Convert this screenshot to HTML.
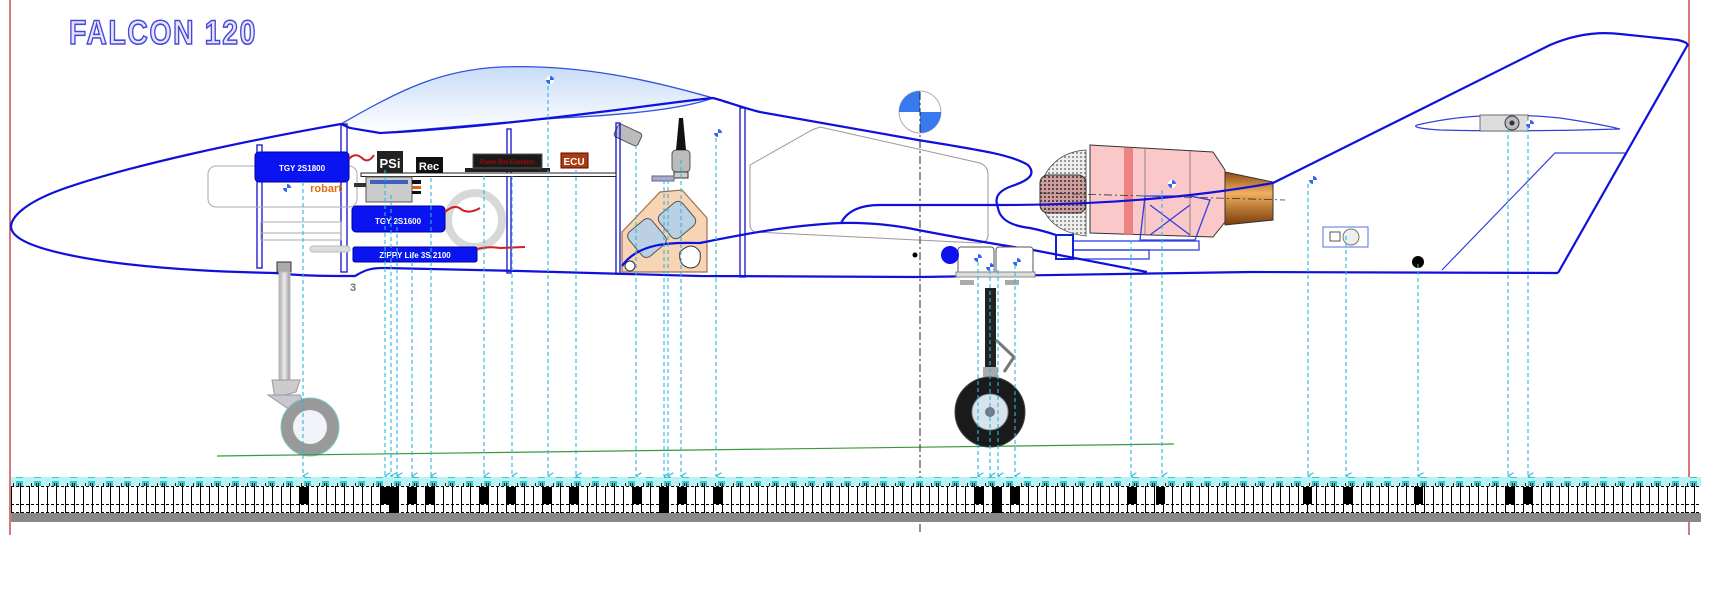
<!DOCTYPE html>
<html><head><meta charset="utf-8"><style>
html,body{margin:0;padding:0;background:#fff;}
svg{display:block;}
</style></head><body>
<svg width="1716" height="609" viewBox="0 0 1716 609" xmlns="http://www.w3.org/2000/svg" font-family="Liberation Sans, sans-serif">
<defs>
<linearGradient id="can" x1="0" y1="0" x2="0" y2="1"><stop offset="0" stop-color="#c8dcf8"/><stop offset="1" stop-color="#ffffff"/></linearGradient>
<linearGradient id="noz" x1="0" y1="0" x2="0" y2="1"><stop offset="0" stop-color="#8a4a10"/><stop offset="0.4" stop-color="#f0b060"/><stop offset="1" stop-color="#7a3c08"/></linearGradient>
<linearGradient id="strut" x1="0" y1="0" x2="1" y2="0"><stop offset="0" stop-color="#aaa"/><stop offset="0.5" stop-color="#eee"/><stop offset="1" stop-color="#999"/></linearGradient>
<pattern id="dots" width="4" height="4" patternUnits="userSpaceOnUse"><rect width="4" height="4" fill="#eee"/><rect width="2" height="2" fill="#999"/></pattern>
<pattern id="dots2" width="4" height="4" patternUnits="userSpaceOnUse"><rect width="4" height="4" fill="#c8a0a0"/><rect width="2" height="2" fill="#6a4040"/></pattern>
<pattern id="cells" x="11" y="0" width="9" height="40" patternUnits="userSpaceOnUse"><line x1="0.5" y1="0" x2="0.5" y2="40" stroke="#000" stroke-width="1"/></pattern>
<pattern id="cy" x="11" y="0" width="18" height="10" patternUnits="userSpaceOnUse"><rect x="5" y="1" width="7" height="7" fill="#3cc8c8"/><rect x="2" y="3" width="1" height="3" fill="#222"/><rect x="7" y="3" width="1" height="3" fill="#222"/><rect x="9" y="3" width="1" height="3" fill="#222"/></pattern>
<marker id="ar" markerWidth="6" markerHeight="6" refX="3" refY="5" orient="auto"><path d="M0,0 L3,5 L6,0" fill="none" stroke="#2cb8e0" stroke-width="1"/></marker>
<g id="cg"><circle r="4" fill="#fff"/><path d="M0,-4 A4,4 0 0 1 4,0 L0,0Z M0,4 A4,4 0 0 1 -4,0 L0,0Z" fill="#3366ee"/></g>
</defs>

<!-- red borders -->
<line x1="10" y1="0" x2="10" y2="535" stroke="#c02020" stroke-width="1.2"/>
<line x1="1689" y1="0" x2="1689" y2="535" stroke="#c02020" stroke-width="1.2"/>

<!-- title -->
<text x="69" y="44" font-size="34" font-weight="bold" fill="#e4e4ff" stroke="#4848d8" stroke-width="1.6" textLength="188" lengthAdjust="spacingAndGlyphs" letter-spacing="2">FALCON 120</text>

<!-- canopy -->
<path d="M341,124 C400,90 440,70 500,67 C580,64 650,80 713,98 C680,110 620,115 560,118 C480,124 420,130 380,133 L350,128 Z" fill="url(#can)" stroke="#3050e0" stroke-width="1.3"/>

<!-- hatch outline -->
<path d="M750,165 L812,130 L820,127 L980,163 Q988,166 988,175 L988,236 Q987,243 979,243 L755,232 Q750,230 750,225 Z" fill="none" stroke="#999" stroke-width="1"/>

<!-- fuel tank -->
<polygon points="622,272 622,232 660,192 682,190 707,218 707,272" fill="#f6d4b4" stroke="#a07050" stroke-width="1.2"/>
<rect x="632" y="222" width="30" height="32" rx="6" fill="#bcd0e4" stroke="#555" transform="rotate(-40 647 238)"/>
<rect x="662" y="205" width="30" height="30" rx="6" fill="#bcd0e4" stroke="#555" transform="rotate(-40 677 220)"/>
<path d="M680,252 Q692,240 700,252 Q702,268 690,268 Q678,266 680,252Z" fill="#fff" stroke="#333"/>
<circle cx="630" cy="266" r="5" fill="#fff" stroke="#333"/>
<!-- fuel pump / valves -->
<rect x="672" y="150" width="18" height="22" rx="4" fill="#bbb" stroke="#555"/>
<path d="M679,118 L683,118 L686,150 L676,150Z" fill="#111"/>
<rect x="674" y="172" width="14" height="6" fill="#ccc" stroke="#333"/>
<rect x="652" y="176" width="22" height="5" fill="#aac" stroke="#668"/>
<rect x="615" y="128" width="26" height="14" rx="3" fill="#bbb" stroke="#555" transform="rotate(25 628 135)"/>

<!-- engine -->
<path d="M1086,150 C1055,152 1040,175 1040,195 C1042,220 1060,233 1086,236Z" fill="url(#dots)" stroke="#444" stroke-width="0.8"/>
<rect x="1040" y="175" width="46" height="38" rx="8" fill="url(#dots2)" stroke="#333"/>
<path d="M1090,145 L1213,152 L1225,170 L1225,222 L1213,237 L1090,233Z" fill="#fac8c8" stroke="#333" stroke-width="1"/>
<rect x="1124" y="148" width="9" height="87" fill="#e87070" opacity="0.8"/>
<line x1="1145" y1="148" x2="1145" y2="234" stroke="#555" stroke-width="0.6"/>
<line x1="1190" y1="150" x2="1190" y2="235" stroke="#555" stroke-width="0.6"/>
<path d="M1225,172 L1273,182 L1273,220 L1225,225Z" fill="url(#noz)" stroke="#333"/>
<line x1="1040" y1="193" x2="1285" y2="200" stroke="#333" stroke-width="0.8" stroke-dasharray="8,3,2,3"/>
<!-- engine mount -->
<path d="M1145,196 L1190,196 L1210,200 L1195,240 L1140,240 Z M1150,205 L1190,235 M1190,205 L1150,235" fill="none" stroke="#3040e0" stroke-width="1.3"/>
<rect x="1073" y="241" width="126" height="9" fill="none" stroke="#3040e0" stroke-width="1.3"/>
<rect x="1073" y="250" width="76" height="9" fill="none" stroke="#3040e0" stroke-width="1.3"/>
<rect x="1056" y="235" width="17" height="24" fill="none" stroke="#1020e0" stroke-width="2"/>

<!-- fuselage outline -->
<g fill="none" stroke="#1010dd" stroke-width="2.2">
<path d="M341,124 C250,140 130,165 60,190 C25,203 11,217 11,227 C12,240 40,252 110,262 C170,270 230,272 275,273 C300,276 330,276 355,276 C365,270 370,268 385,268 L520,271 L700,276 L920,277 L1250,272 L1558,273"/>
<path d="M341,124 L350,128 L380,133 C440,130 520,122 600,112 C650,106 690,100 713,98 C725,101 740,107 760,112 L918,140 C980,150 1012,155 1028,165 C1036,174 1030,180 1012,186 C995,192 995,200 998,208 C1000,220 1012,226 1030,228 C1040,230 1050,233 1056,235"/>
<path d="M1273,183 L1550,45 Q1585,30 1620,34 L1678,40 Q1690,43 1687,46 L1558,273"/>
<path d="M622,266 C640,240 680,243 700,243 C740,235 790,225 841,223 C870,222 900,226 918,230 C960,238 1000,245 1033,250 L1147,272"/>
<path d="M841,223 Q850,205 880,205 L1000,205 Q1150,205 1273,183"/>
</g>
<path d="M1442,270 L1555,153 L1625,153" fill="none" stroke="#3040e0" stroke-width="1.2"/>
<path d="M1417,125 Q1480,110 1560,118 Q1600,124 1620,129 Q1520,132 1440,130 Q1410,128 1417,125Z" fill="none" stroke="#3040e0" stroke-width="1.2"/>
<rect x="1480" y="115" width="48" height="16" fill="#ddd" stroke="#555" stroke-width="0.8"/>
<circle cx="1512" cy="123" r="7" fill="#bbb" stroke="#333"/><circle cx="1512" cy="123" r="2.5" fill="#234"/>
<rect x="1323" y="227" width="45" height="20" fill="#fff" stroke="#5070e0"/>
<circle cx="1351" cy="237" r="8" fill="#eee" stroke="#777"/><rect x="1330" y="232" width="10" height="9" fill="#fff" stroke="#555"/>
<circle cx="1418" cy="262" r="6" fill="#000"/>

<!-- bulkheads -->
<g fill="none" stroke="#1010cc" stroke-width="1.3">
<rect x="257" y="145" width="5" height="123"/>
<rect x="341" y="124" width="6" height="148"/>
<rect x="507" y="129" width="4" height="144"/>
<rect x="616" y="123" width="4" height="151"/>
<rect x="740" y="108" width="5" height="169"/>
</g>
<rect x="361" y="173" width="255" height="3.5" fill="#fff" stroke="#222" stroke-width="1"/>

<!-- nose area items -->
<rect x="208" y="166" width="149" height="41" rx="8" fill="none" stroke="#aaa" stroke-width="1"/>
<rect x="261" y="222" width="80" height="18" fill="none" stroke="#aaa"/>
<line x1="261" y1="233" x2="341" y2="233" stroke="#aaa"/>
<rect x="310" y="246" width="40" height="6" rx="3" fill="#ddd" stroke="#bbb"/>
<rect x="277" y="262" width="14" height="10" fill="#aaa" stroke="#333"/>

<!-- components -->
<rect x="255" y="152" width="94" height="30" rx="4" fill="#0a14f0" stroke="#0000a0"/>
<text x="302" y="171" font-size="8" font-weight="bold" fill="#fff" text-anchor="middle">TGY 2S1800</text>
<text x="326" y="192" font-size="11" font-weight="bold" fill="#e07010" text-anchor="middle">robart</text>
<path d="M349,159 Q355,152 362,158 Q368,164 374,155" fill="none" stroke="#d02020" stroke-width="2"/>
<rect x="377" y="151" width="26" height="22" fill="#222"/>
<text x="390" y="168" font-size="13" font-weight="bold" fill="#fff" text-anchor="middle">PSi</text>
<rect x="416" y="157" width="27" height="16" fill="#111"/>
<text x="429" y="170" font-size="11" font-weight="bold" fill="#fff" text-anchor="middle">Rec</text>
<rect x="465" y="168" width="85" height="4" fill="#222"/>
<rect x="473" y="154" width="69" height="14" fill="#1a1a1a" stroke="#555"/>
<text x="507" y="164" font-size="6" fill="#d00" text-anchor="middle">Power Box Evolution</text>
<rect x="561" y="153" width="27" height="15" fill="#a83e10" stroke="#600"/>
<text x="574" y="165" font-size="10" font-weight="bold" fill="#fff" text-anchor="middle">ECU</text>
<rect x="366" y="177" width="46" height="25" fill="#ccc" stroke="#555"/>
<rect x="370" y="180" width="38" height="4" fill="#4060c0"/>
<rect x="354" y="183" width="12" height="4" fill="#333"/><rect x="412" y="180" width="9" height="4" fill="#111"/><rect x="412" y="186" width="9" height="3" fill="#e06010"/><rect x="412" y="191" width="9" height="3" fill="#111"/>
<circle cx="475" cy="220" r="27" fill="none" stroke="#d8d8d8" stroke-width="8"/>
<rect x="352" y="206" width="93" height="26" rx="4" fill="#0a14f0" stroke="#0000a0"/>
<text x="398" y="224" font-size="8" font-weight="bold" fill="#fff" text-anchor="middle">TGY 2S1600</text>
<path d="M445,212 Q455,203 462,210 Q470,214 480,208" fill="none" stroke="#d02020" stroke-width="2"/>
<rect x="353" y="247" width="124" height="15" rx="2" fill="#0a14f0" stroke="#0000a0"/>
<text x="415" y="258" font-size="8" font-weight="bold" fill="#fff" text-anchor="middle">ZIPPY Life 3S 2100</text>
<path d="M477,249 Q490,246 500,248 L525,247" fill="none" stroke="#d02020" stroke-width="2"/>
<text x="353" y="291" font-size="11" font-weight="bold" fill="#777" text-anchor="middle">3</text>

<!-- nose gear -->
<rect x="279" y="272" width="11" height="110" fill="url(#strut)" stroke="#bbb"/>
<path d="M272,380 L300,380 L296,392 L275,398 Z" fill="#ccc" stroke="#999"/>
<path d="M268,395 L300,395 L308,410 L290,410Z" fill="#c8c8d0" stroke="#999"/>
<circle cx="310" cy="427" r="29" fill="#999" stroke="#7cc" stroke-width="1"/>
<circle cx="310" cy="427" r="17" fill="#f0f4f8"/>
<line x1="217" y1="456" x2="1174" y2="444" stroke="#3a9a3a" stroke-width="1.2"/>

<!-- main gear -->
<rect x="958" y="247" width="36" height="27" rx="3" fill="#fff" stroke="#555"/>
<rect x="996" y="247" width="37" height="27" rx="3" fill="#fff" stroke="#555"/>
<rect x="956" y="272" width="79" height="5" fill="#ddd" stroke="#888"/>
<rect x="960" y="280" width="14" height="5" fill="#aaa"/><rect x="1005" y="280" width="14" height="5" fill="#aaa"/>
<rect x="985" y="288" width="11" height="80" fill="#222"/>
<path d="M996,340 L1014,357 L1004,372" fill="none" stroke="#777" stroke-width="3"/>
<rect x="983" y="367" width="15" height="10" fill="#aaa"/>
<circle cx="990" cy="412" r="35" fill="#1a1a1a" stroke="#444"/>
<circle cx="990" cy="412" r="18" fill="#d8e4ec" stroke="#889"/>
<circle cx="990" cy="412" r="5" fill="#778"/>
<circle cx="950" cy="255" r="9" fill="#1010ee"/>
<circle cx="915" cy="255" r="2.5" fill="#000"/>

<!-- MAC marker -->
<circle cx="920" cy="112" r="21" fill="#fff" stroke="#aab" stroke-width="1"/>
<path d="M920,91 A21,21 0 0 0 899,112 L920,112Z M920,133 A21,21 0 0 0 941,112 L920,112Z" fill="#3a78ee"/>
<line x1="920" y1="92" x2="920" y2="535" stroke="#223" stroke-width="1" stroke-dasharray="8,3,2,3"/>

<!-- small cg markers -->
<use href="#cg" x="550" y="80"/><use href="#cg" x="287" y="188"/><use href="#cg" x="718" y="133"/>
<use href="#cg" x="1313" y="180"/><use href="#cg" x="1172" y="184"/><use href="#cg" x="1530" y="124"/>
<use href="#cg" x="978" y="258"/><use href="#cg" x="990" y="267"/><use href="#cg" x="1017" y="262"/>

<!-- dashed leader lines -->
<g stroke="#2cb8e0" stroke-width="1.1" stroke-dasharray="4,3" marker-end="url(#ar)">
<line x1="303" y1="182" x2="303" y2="476"/>
<line x1="385" y1="170" x2="385" y2="476"/>
<line x1="391" y1="195" x2="391" y2="476"/>
<line x1="397" y1="220" x2="397" y2="476"/>
<line x1="412" y1="255" x2="412" y2="476"/>
<line x1="431" y1="178" x2="431" y2="476"/>
<line x1="484" y1="176" x2="484" y2="476"/>
<line x1="512" y1="176" x2="512" y2="476"/>
<line x1="548" y1="86" x2="548" y2="476"/>
<line x1="576" y1="170" x2="576" y2="476"/>
<line x1="636" y1="145" x2="636" y2="476"/>
<line x1="664" y1="180" x2="664" y2="476"/>
<line x1="668" y1="180" x2="668" y2="476"/>
<line x1="681" y1="160" x2="681" y2="476"/>
<line x1="716" y1="138" x2="716" y2="476"/>
<line x1="978" y1="262" x2="978" y2="476"/>
<line x1="990" y1="270" x2="990" y2="476"/>
<line x1="998" y1="270" x2="998" y2="476"/>
<line x1="1015" y1="265" x2="1015" y2="476"/>
<line x1="1131" y1="240" x2="1131" y2="476"/>
<line x1="1162" y1="190" x2="1162" y2="476"/>
<line x1="1308" y1="184" x2="1308" y2="476"/>
<line x1="1346" y1="236" x2="1346" y2="476"/>
<line x1="1418" y1="264" x2="1418" y2="476"/>
<line x1="1508" y1="128" x2="1508" y2="476"/>
<line x1="1528" y1="128" x2="1528" y2="476"/>
</g>

<!-- ruler -->
<rect x="11" y="477" width="1690" height="9" fill="#b8f2f2"/>
<rect x="11" y="477" width="1690" height="9" fill="url(#cy)"/>
<rect x="11" y="486" width="1690" height="27" fill="#fff"/>
<rect x="11" y="486" width="1690" height="27" fill="url(#cells)"/>
<line x1="11" y1="486.5" x2="1701" y2="486.5" stroke="#000" stroke-dasharray="3,2"/>
<line x1="11" y1="504.5" x2="1701" y2="504.5" stroke="#000" stroke-dasharray="3,2"/>
<line x1="11" y1="512.5" x2="1701" y2="512.5" stroke="#000" stroke-dasharray="3,2"/>
<rect x="11" y="513" width="1690" height="9" fill="#888"/>
<g fill="#000">
<rect x="299" y="487" width="9" height="17"/>
<rect x="380" y="487" width="9" height="17"/><rect x="389" y="487" width="9" height="17"/><rect x="389" y="504" width="9" height="9"/>
<rect x="407" y="487" width="9" height="17"/><rect x="425" y="487" width="9" height="17"/>
<rect x="479" y="487" width="9" height="17"/><rect x="506" y="487" width="9" height="17"/>
<rect x="542" y="487" width="9" height="17"/><rect x="569" y="487" width="9" height="17"/>
<rect x="632" y="487" width="9" height="17"/><rect x="659" y="487" width="9" height="17"/><rect x="659" y="504" width="9" height="9"/>
<rect x="677" y="487" width="9" height="17"/><rect x="713" y="487" width="9" height="17"/>
<rect x="974" y="487" width="9" height="17"/><rect x="992" y="487" width="9" height="17"/><rect x="992" y="504" width="9" height="9"/>
<rect x="1010" y="487" width="9" height="17"/>
<rect x="1127" y="487" width="9" height="17"/><rect x="1156" y="487" width="9" height="17"/>
<rect x="1303" y="487" width="9" height="17"/><rect x="1343" y="487" width="9" height="17"/>
<rect x="1414" y="487" width="9" height="17"/><rect x="1505" y="487" width="9" height="17"/><rect x="1523" y="487" width="9" height="17"/>
</g>
</svg>
</body></html>
